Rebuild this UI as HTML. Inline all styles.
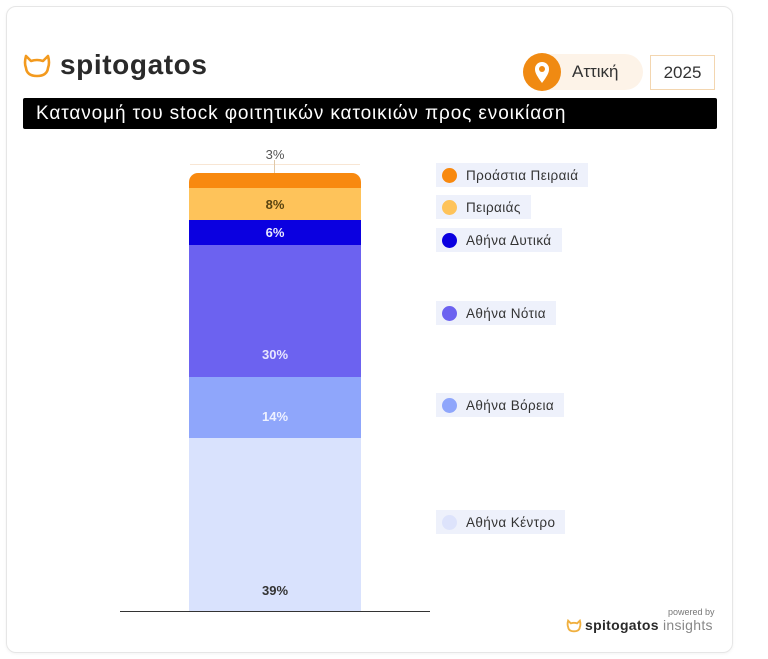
<!DOCTYPE html>
<html><head><meta charset="utf-8"><style>
*{margin:0;padding:0;box-sizing:border-box}
body{width:768px;height:659px;background:#fff;position:relative;overflow:hidden;font-family:"Liberation Sans","DejaVu Sans",sans-serif}
.card{position:absolute;left:6px;top:6px;width:727px;height:647px;border:1px solid #e6e6e6;border-radius:10px;box-shadow:0 1px 3px rgba(0,0,0,.05)}
.abs{position:absolute}
.seg{position:absolute;left:189px;width:172px;display:flex;align-items:center;justify-content:center;font-size:13px;font-weight:bold}
.leg{position:absolute;left:436px;height:24px;background:#eef1fb;display:flex;align-items:center;padding:0 10px 0 6px;font-size:13.5px;letter-spacing:0.4px;color:#333}
.leg i{display:inline-block;width:15px;height:15px;border-radius:50%;margin-right:9px}
</style></head><body>
<div class="card"></div>
<svg class="abs" style="left:22px;top:53px" width="30" height="26" viewBox="0 0 30 26"><path d="M4 3 L9 8 Q15 6 21 8 L26 3 Q28 10 26 15 Q25 23 15 23 Q5 23 4 15 Q2 10 4 3Z" fill="none" stroke="#f39a1e" stroke-width="2.6" stroke-linejoin="round"/></svg>
<div class="abs" style="left:60px;top:49px;font-size:28px;font-weight:bold;color:#2a2a2a;letter-spacing:0.6px">spitogatos</div>
<div class="abs" style="left:523px;top:54px;width:120px;height:36px;background:#fdf3e8;border-radius:18px"></div>
<div class="abs" style="left:523px;top:53px;width:38px;height:38px;border-radius:50%;background:#f08a12"></div>
<svg class="abs" style="left:533px;top:60px" width="18" height="24" viewBox="0 0 18 24"><path d="M9 23 C3 15 2 12 2 9 A7 7 0 0 1 16 9 C16 12 15 15 9 23Z" fill="#fff"/><circle cx="9" cy="9" r="3" fill="#f08a12"/></svg>
<div class="abs" style="left:572px;top:62px;font-size:17px;color:#333">Αττική</div>
<div class="abs" style="left:650px;top:55px;width:65px;height:35px;border:1px solid #f3d6b0;background:#fff;font-size:17px;color:#333;text-align:center;line-height:33px">2025</div>
<div class="abs" style="left:23px;top:98px;width:694px;height:31px;background:#000;border-radius:2px;color:#fff;font-size:19px;letter-spacing:0.9px;line-height:31px;padding-left:13px;white-space:nowrap">Κατανομή του stock φοιτητικών κατοικιών προς ενοικίαση</div>

<div class="abs" style="left:190px;top:164px;width:170px;height:1px;background:#f8e6d4"></div>
<div class="abs" style="left:274px;top:160px;width:1px;height:13px;background:#e0c8a8"></div>
<div class="abs" style="left:255px;top:147px;width:40px;text-align:center;font-size:13px;color:#555">3%</div>
<div class="seg" style="top:173px;height:15px;background:#f8890f;border-radius:9px 9px 0 0"></div>
<div class="seg" style="top:188px;height:32px;background:#fec35a;color:#5a4410">8%</div>
<div class="seg" style="top:220px;height:25px;background:#0b00e0;color:#e8e8ff">6%</div>
<div class="seg" style="top:245px;height:132px;background:#6c62f0;color:#e8e6ff;padding-top:86px">30%</div>
<div class="seg" style="top:377px;height:61px;background:#8fa6fb;color:#eef1ff;padding-top:18px">14%</div>
<div class="seg" style="top:438px;height:173px;background:#d9e2fd;color:#333;padding-top:132px">39%</div>
<div class="abs" style="left:120px;top:611px;width:310px;height:1px;background:#333"></div>

<div class="leg" style="top:163px"><i style="background:#f8890f"></i>Προάστια Πειραιά</div>
<div class="leg" style="top:195px"><i style="background:#fec35a"></i>Πειραιάς</div>
<div class="leg" style="top:228px"><i style="background:#0b00e0"></i>Αθήνα Δυτικά</div>
<div class="leg" style="top:301px"><i style="background:#6c62f0"></i>Αθήνα Νότια</div>
<div class="leg" style="top:393px"><i style="background:#8fa6fb"></i>Αθήνα Βόρεια</div>
<div class="leg" style="top:510px"><i style="background:#dde3fb"></i>Αθήνα Κέντρο</div>

<div class="abs" style="left:668px;top:607px;font-size:9px;color:#777">powered by</div>
<svg class="abs" style="left:566px;top:619px" width="16" height="14" viewBox="0 0 30 26"><path d="M4 3 L9 8 Q15 6 21 8 L26 3 Q28 10 26 15 Q25 23 15 23 Q5 23 4 15 Q2 10 4 3Z" fill="none" stroke="#f0b040" stroke-width="3.5"/></svg>
<div class="abs" style="left:585px;top:617px;font-size:14px;color:#2a2a2a;letter-spacing:0.3px"><b>spitogatos</b><span style="color:#888"> insights</span></div>
</body></html>
